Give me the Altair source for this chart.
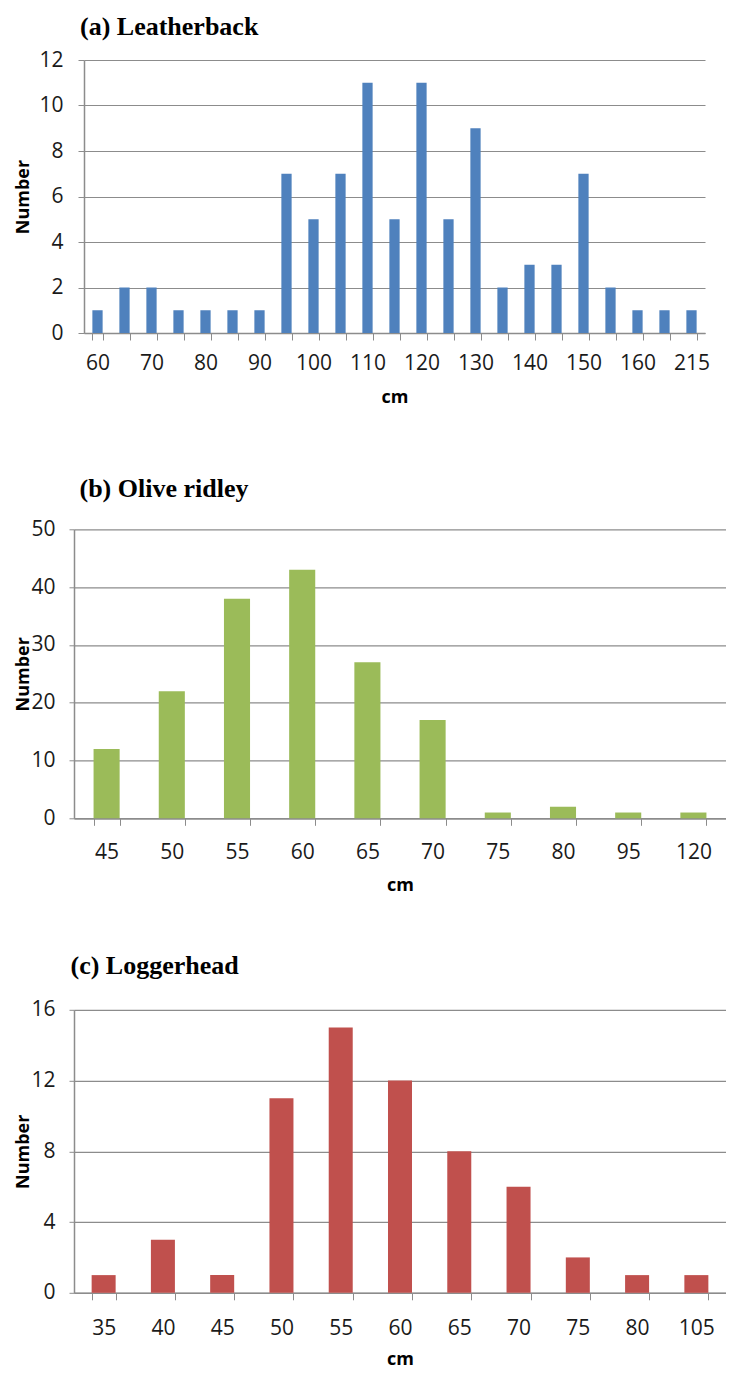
import json
import altair as alt
import pandas as pd

# ---- data ----
a_cats = ["60", "65", "70", "75", "80", "85", "90", "95", "100", "105", "110", "115",
          "120", "125", "130", "135", "140", "145", "150", "155", "160", "165", "215"]
a_vals = [1, 2, 2, 1, 1, 1, 1, 7, 5, 7, 11, 5, 11, 5, 9, 2, 3, 3, 7, 2, 1, 1, 1]

b_cats = ["45", "50", "55", "60", "65", "70", "75", "80", "95", "120"]
b_vals = [12, 22, 38, 43, 27, 17, 1, 2, 1, 1]

c_cats = ["35", "40", "45", "50", "55", "60", "65", "70", "75", "80", "105"]
c_vals = [1, 3, 1, 11, 15, 12, 8, 6, 2, 1, 1]

GRID = "#8c8c8c"
SANS = "Open Sans"
LABEL_SIZE = 21


def panel(cats, vals, color, title, title_dx, title_offset, ymax, ystep,
          width, height, pad_inner, y_tick, y_label_pad, y_extent, y_title_pad,
          x_label_pad, x_title_pad, left_edge, label_every=1):
    df = pd.DataFrame({"cm": cats, "n": vals})
    shown = cats[::label_every]
    label_expr = "indexof(%s, datum.value) >= 0 ? datum.label : ''" % json.dumps(shown)
    x = alt.X(
        "cm:N", sort=cats, title="cm",
        scale=alt.Scale(paddingInner=pad_inner, paddingOuter=pad_inner / 2),
        axis=alt.Axis(labelAngle=0, labelExpr=label_expr, tickBand="extent",
                      labelFont=SANS, labelFontSize=LABEL_SIZE, labelColor="#1a1a1a",
                      labelPadding=x_label_pad, tickSize=7, tickColor=GRID,
                      domainColor=GRID, domainWidth=1.5, grid=False,
                      titleFont=SANS, titleFontSize=18, titleFontWeight="bold",
                      titleColor="black", titlePadding=x_title_pad),
    )
    y = alt.Y(
        "n:Q", title="Number",
        scale=alt.Scale(domain=[0, ymax], nice=False),
        axis=alt.Axis(values=list(range(0, ymax + 1, ystep)), grid=True,
                      gridColor=GRID, gridWidth=1.2, domainColor=GRID,
                      domainWidth=1.5, tickColor=GRID, tickSize=y_tick,
                      labelFont=SANS, labelFontSize=LABEL_SIZE, labelColor="#1a1a1a",
                      labelPadding=y_label_pad, minExtent=y_extent, maxExtent=y_extent,
                      titleFont=SANS, titleFontSize=18, titleFontWeight="bold",
                      titleColor="black", titlePadding=y_title_pad),
    )
    bars = alt.Chart(df).mark_bar(color=color).encode(x=x, y=y)
    # invisible layout guide that fixes the left extent of the panel
    guide = (
        alt.Chart(df)
        .mark_rule(opacity=0, strokeWidth=1)
        .encode(x=alt.value(left_edge), y=alt.value(0), y2=alt.value(10))
    )
    return alt.layer(bars, guide).properties(
        width=width, height=height,
        title=alt.TitleParams(text=title, font="Liberation Serif", fontSize=26,
                              fontWeight="bold", color="black", anchor="start",
                              frame="group", dx=title_dx, offset=title_offset),
    )


pa = panel(a_cats, a_vals, "#4F81BD", "(a) Leatherback", -4, 9, 12, 2,
           621, 273, 0.62, 6, 15, 45, 7, 12.5, 14.5, -74.5, label_every=2)
pb = panel(b_cats, b_vals, "#9BBB59", "(b) Olive ridley", 5.5, 16.5, 50, 10,
           652, 289, 0.60, 5, 14, 42, 0, 16, 14, -65.5)
pc = panel(c_cats, c_vals, "#C0504D", "(c) Loggerhead", -3.5, 19.5, 16, 4,
           652, 283, 0.595, 5, 14, 42, 0, 17.2, 12.5, -65.5)

# an empty, invisible strip: shifts panel (a) 10 px right of (b) and (c) and
# keeps a little room above the first title
spacer = (
    alt.Chart(pd.DataFrame({"v": [0]}))
    .mark_rule(opacity=0, strokeWidth=1)
    .encode(x=alt.value(0), y=alt.value(-51.5), y2=alt.value(0))
    .properties(width=1, height=273)
)
row_a = alt.hconcat(spacer, pa, spacing=-66)

chart = (
    alt.vconcat(row_a, alt.vconcat(pb, pc, spacing=58.5), spacing=69.3)
    .properties(padding=0)
    .configure_view(stroke=None)
)

chart.save("out.html", embed_options={"renderer": "svg", "actions": False})
